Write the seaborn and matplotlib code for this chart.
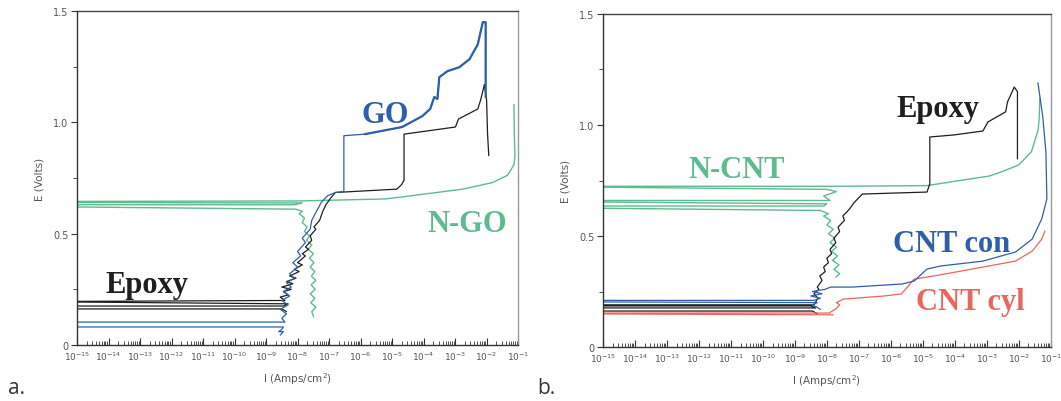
import numpy as np
import pandas as pd
import matplotlib
matplotlib.use("Agg")
import matplotlib.pyplot as plt
import matplotlib.ticker as mticker
import seaborn as sns

# ---- panel a: log10 current density (A/cm^2) and potential (V) ----
a_epoxy_logI = [-8.35, -8.50, -15, -15, -8.45, -8.30, -15, -15, -8.40,
                -8.55, -8.30, -8.45, -8.20, -8.50, -8.15, -8.35, -8.05, -8.25, -7.95,
                -8.10, -7.85, -8.00, -7.75, -7.85, -7.65, -7.75, -7.55, -7.60, -7.42,
                -7.48, -7.30, -7.20, -7.10, -6.95, -6.80,
                -4.85, -4.70, -4.62, -4.62, -2.99, -2.89, -2.28, -2.19, -2.12, -2.07,
                -2.00, -1.97, -1.93]
a_epoxy_E = [0.150, 0.162, 0.162, 0.175, 0.175, 0.185, 0.193, 0.196, 0.200,
             0.215, 0.225, 0.240, 0.250, 0.260, 0.275, 0.285, 0.300, 0.310, 0.330,
             0.340, 0.360, 0.370, 0.400, 0.410, 0.430, 0.440, 0.470, 0.490, 0.520,
             0.530, 0.560, 0.600, 0.630, 0.660, 0.685,
             0.700, 0.720, 0.740, 0.947, 0.979, 1.015, 1.060, 1.100, 1.140, 1.170,
             1.100, 0.950, 0.850]

a_go_logI = [-8.55, -8.45, -8.60, -8.50, -8.45, -15, -15, -8.40, -8.50, -8.35,
             -8.55, -8.30, -8.50, -8.25, -8.45, -8.20, -8.35, -8.10, -8.25, -8.00,
             -8.15, -7.90, -8.00, -7.75, -7.85, -7.60, -7.55, -7.40, -7.25, -7.05,
             -6.80, -6.53, -6.53, -5.86, -4.68, -4.04, -3.79, -3.66, -3.56, -3.50,
             -3.24, -2.86, -2.54, -2.28, -2.12, -2.03, -2.03]
a_go_E = [0.045, 0.060, 0.060, 0.070, 0.081, 0.081, 0.103, 0.103, 0.120, 0.140,
          0.160, 0.180, 0.200, 0.220, 0.240, 0.260, 0.280, 0.300, 0.320, 0.350,
          0.370, 0.400, 0.420, 0.460, 0.480, 0.520, 0.560, 0.600, 0.640, 0.670,
          0.685, 0.690, 0.940, 0.947, 0.979, 1.028, 1.060, 1.114, 1.105, 1.203,
          1.230, 1.248, 1.284, 1.350, 1.450, 1.450, 1.114]

a_ngo_logI = [-7.49, -7.55, -7.42, -7.58, -7.45, -7.60, -7.44, -7.57, -7.42, -7.56,
              -7.45, -7.60, -7.48, -7.62, -7.50, -7.66, -7.55, -7.72, -7.62, -7.78,
              -7.70, -7.85, -7.78, -7.95, -7.85, -8.05, -15, -15, -8.10, -7.85,
              -15, -15, -7.90, -5.22, -4.68, -2.76, -1.80, -1.33, -1.13, -1.10,
              -1.12, -1.13]
a_ngo_E = [0.126, 0.150, 0.170, 0.190, 0.210, 0.230, 0.250, 0.270, 0.290, 0.310,
           0.330, 0.350, 0.370, 0.390, 0.410, 0.430, 0.450, 0.470, 0.490, 0.510,
           0.530, 0.550, 0.570, 0.590, 0.600, 0.610, 0.620, 0.630, 0.630, 0.638,
           0.640, 0.645, 0.647, 0.656, 0.665, 0.700, 0.730, 0.763, 0.810, 0.850,
           0.950, 1.080]

# ---- panel b ----
b_epoxy_logI = [-8.30, -8.45, -15, -15, -8.35, -8.50, -15, -15, -8.40,
                -8.28, -8.40, -8.25, -8.30, -8.15, -8.22, -8.05, -8.10, -7.95, -8.00,
                -7.85, -7.90, -7.72, -7.78, -7.60, -7.65, -7.45, -7.50, -7.30, -7.15,
                -6.95, -6.89, -4.87, -4.78, -4.78, -4.04, -3.12, -2.96, -2.41, -2.35,
                -2.14, -2.04, -2.04]
b_epoxy_E = [0.150, 0.162, 0.162, 0.176, 0.176, 0.185, 0.185, 0.190, 0.190,
             0.220, 0.240, 0.260, 0.270, 0.300, 0.320, 0.340, 0.360, 0.380, 0.400,
             0.420, 0.440, 0.470, 0.490, 0.520, 0.540, 0.570, 0.590, 0.620, 0.650,
             0.680, 0.689, 0.698, 0.734, 0.946, 0.955, 0.973, 1.014, 1.059, 1.104,
             1.171, 1.150, 0.847]

b_ncnt_logI = [-7.72, -7.60, -7.78, -7.62, -7.82, -7.66, -7.85, -7.70, -7.90, -7.75,
               -7.95, -7.80, -8.00, -7.88, -8.10, -7.95, -8.20, -15, -15, -8.10,
               -8.00, -15, -15, -7.90, -8.10, -7.70, -8.00, -15, -15, -7.70,
               -4.87, -3.84, -2.92, -2.52, -2.00, -1.60, -1.39, -1.36, -1.34]
b_ncnt_E = [0.315, 0.330, 0.350, 0.370, 0.390, 0.410, 0.430, 0.450, 0.470, 0.490,
            0.510, 0.530, 0.550, 0.570, 0.590, 0.600, 0.615, 0.625, 0.635, 0.635,
            0.645, 0.653, 0.660, 0.660, 0.680, 0.700, 0.710, 0.720, 0.724, 0.724,
            0.727, 0.750, 0.770, 0.790, 0.820, 0.880, 0.980, 1.030, 1.120]

b_con_logI = [-8.20, -8.45, -8.30, -15, -15, -8.40, -8.20, -8.50, -8.15, -8.45,
              -8.05, -7.88, -7.20, -5.64, -5.27, -4.87, -4.44, -3.12, -2.10, -1.58,
              -1.28, -1.12, -1.15, -1.25, -1.40]
b_con_E = [0.170, 0.190, 0.200, 0.203, 0.210, 0.210, 0.220, 0.230, 0.240, 0.250,
           0.260, 0.270, 0.270, 0.284, 0.297, 0.351, 0.365, 0.387, 0.428, 0.486,
           0.577, 0.667, 0.878, 1.040, 1.190]

b_cyl_logI = [-7.80, -15, -15, -7.90, -7.88, -7.72, -7.60, -7.70, -7.48, -6.19,
              -5.67, -5.48, -5.27, -4.65, -3.12, -2.10, -1.58, -1.28, -1.18]
b_cyl_E = [0.145, 0.149, 0.153, 0.153, 0.158, 0.171, 0.190, 0.200, 0.216, 0.230,
           0.239, 0.270, 0.306, 0.320, 0.360, 0.387, 0.432, 0.486, 0.523]

decade_exponents = list(range(-15, 0))
e_ticks = [0, 0.5, 1.0, 1.5]
e_tick_labels = ["0", "0.5", "1.0", "1.5"]

BLACK = "#1e1e1e"
BLUE = "#2f5fa8"
GREEN = "#5dbb8e"
RED = "#e8675c"

sns.set_theme(style="white")
plt.rcParams["font.family"] = ["DejaVu Sans"]

fig = plt.figure(figsize=(10.61, 4.02), dpi=100)
ax_a = fig.add_axes([0.0726, 0.1393, 0.4157, 0.8308])
ax_b = fig.add_axes([0.5683, 0.1343, 0.4220, 0.8284])


def draw(ax, logI, E, color, lw=0.9):
    df = pd.DataFrame({"I": 10.0 ** np.asarray(logI, float), "E": E})
    sns.lineplot(data=df, x="I", y="E", sort=False, estimator=None,
                 color=color, lw=lw, ax=ax)


draw(ax_a, a_ngo_logI, a_ngo_E, GREEN, 1.0)
draw(ax_a, a_epoxy_logI, a_epoxy_E, BLACK)
draw(ax_a, a_go_logI, a_go_E, BLUE)
# the anodic GO branch is drawn heavier
draw(ax_a, a_go_logI[33:], a_go_E[33:], BLUE, 1.6)

draw(ax_b, b_ncnt_logI, b_ncnt_E, GREEN, 1.0)
draw(ax_b, b_epoxy_logI, b_epoxy_E, BLACK)
draw(ax_b, b_cyl_logI, b_cyl_E, RED)
draw(ax_b, b_con_logI, b_con_E, BLUE)

for ax in (ax_a, ax_b):
    ax.set_xscale("log")
    ax.set_xlim(1e-15, 1e-1)
    ax.set_ylim(0, 1.5)
    ax.xaxis.set_major_locator(mticker.FixedLocator([10.0 ** k for k in decade_exponents]))
    ax.xaxis.set_major_formatter(mticker.LogFormatterMathtext())
    ax.xaxis.set_minor_locator(mticker.LogLocator(base=10, subs=np.arange(2, 10), numticks=40))
    ax.xaxis.set_minor_formatter(mticker.NullFormatter())
    ax.set_yticks(e_ticks)
    ax.set_yticklabels(e_tick_labels)
    ax.yaxis.set_minor_locator(mticker.MultipleLocator(0.25))
    ax.tick_params(axis="x", which="major", direction="in", length=5, width=0.8,
                   color="#333333", labelsize=6.5, labelcolor="#555555", pad=3)
    ax.tick_params(axis="x", which="minor", direction="in", length=3, width=0.6,
                   color="#333333")
    ax.tick_params(axis="y", which="major", direction="out", length=4, width=0.8,
                   color="#333333", labelsize=7, labelcolor="#555555", pad=2, left=True)
    ax.tick_params(axis="y", which="minor", direction="out", length=3, width=0.6,
                   color="#333333", left=True)
    ax.tick_params(bottom=True, which="both")
    ax.set_xlabel("I (Amps/cm$^2$)", fontsize=7.5, color="#555555", labelpad=6)
    ax.set_ylabel("E (Volts)", fontsize=7.5, color="#555555", labelpad=6)
    for side, col in (("left", "#333333"), ("bottom", "#333333"),
                      ("top", "#444444"), ("right", "#9a9a9a")):
        ax.spines[side].set_color(col)
        ax.spines[side].set_linewidth(1.0)
        ax.spines[side].set_visible(True)

label_font = dict(family=["Liberation Serif", "DejaVu Serif"], fontweight="bold", fontsize=22)
ax_a.text(10 ** -5.96, 1.001, "GO", color=BLUE, ha="left", va="baseline", **label_font)
ax_a.text(10 ** -14.1, 0.238, "Epoxy", color=BLACK, ha="left", va="baseline", **label_font)
ax_a.text(10 ** -3.88, 0.512, "N-GO", color=GREEN, ha="left", va="baseline", **label_font)

ax_b.text(10 ** -12.33, 0.766, "N-CNT", color=GREEN, ha="left", va="baseline", **label_font)
ax_b.text(10 ** -5.82, 1.04, "Epoxy", color=BLACK, ha="left", va="baseline", **label_font)
ax_b.text(10 ** -5.94, 0.432, "CNT con", color=BLUE, ha="left", va="baseline", **label_font)
ax_b.text(10 ** -5.2, 0.171, "CNT cyl", color=RED, ha="left", va="baseline", **label_font)

fig.text(0.008, 0.02, "a.", fontsize=15, color="#333333", family=["Open Sans", "DejaVu Sans"])
fig.text(0.506, 0.02, "b.", fontsize=15, color="#333333", family=["Open Sans", "DejaVu Sans"])

fig.savefig("out.png", dpi=100, facecolor="white")
